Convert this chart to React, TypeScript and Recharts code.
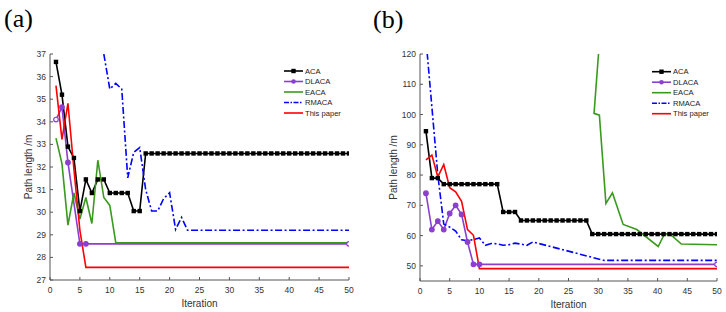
import { LineChart, Line, XAxis, YAxis, Label } from "recharts";

type Pt = { x: number; y: number };

const iterations = Array.from({ length: 50 }, (_, i) => i + 1);
const xTicks = [0, 5, 10, 15, 20, 25, 30, 35, 40, 45, 50];
const aTicks = [27, 28, 29, 30, 31, 32, 33, 34, 35, 36, 37];
const bTicks = [50, 60, 70, 80, 90, 100, 110, 120];

const names = ["ACA", "DLACA", "EACA", "RMACA", "This paper"];
const colors = ["#000000", "#8b3fd0", "#3a9a1e", "#0000ff", "#ff0000"];

// panel (a)
const aAcaY = [
  36.65, 35.2, 32.9, 32.4, 30.05, 31.45, 30.85, 31.45, 31.45, 30.85,
  30.85, 30.85, 30.85, 30.05, 30.05, 32.6, 32.6, 32.6, 32.6, 32.6,
  32.6, 32.6, 32.6, 32.6, 32.6, 32.6, 32.6, 32.6, 32.6, 32.6,
  32.6, 32.6, 32.6, 32.6, 32.6, 32.6, 32.6, 32.6, 32.6, 32.6,
  32.6, 32.6, 32.6, 32.6, 32.6, 32.6, 32.6, 32.6, 32.6, 32.6,
];
const aDlacaX = [1, 2, 3, 5, 6, 50];
const aDlacaY = [34.1, 34.65, 32.2, 28.6, 28.6, 28.6];
const aEacaX = [1, 2, 3, 4, 5, 6, 7, 8, 9, 10, 11, 50];
const aEacaY = [33.28, 32.15, 29.43, 30.85, 29.7, 30.65, 29.5, 32.3, 30.65, 30.3, 28.65, 28.65];
const aRmacaX = [9, 10, 11, 12, 13, 14, 15, 16, 17, 18, 19, 20, 21, 22, 23, 50];
const aRmacaY = [37, 35.45, 35.7, 35.45, 31.52, 32.65, 32.86, 31.0, 30.05, 30.05, 30.6, 30.86, 29.24, 29.77, 29.2, 29.2];
const aOursX = [1, 2, 3, 4, 5, 6, 50];
const aOursY = [35.6, 33.22, 34.82, 31.9, 29.2, 27.56, 27.56];

// panel (b)
const bAcaY = [
  94.5, 79, 79, 77, 77, 77, 77, 77, 77, 77,
  77, 77, 77, 67.8, 67.8, 67.8, 65, 65, 65, 65,
  65, 65, 65, 65, 65, 65, 65, 65, 60.5, 60.5,
  60.5, 60.5, 60.5, 60.5, 60.5, 60.5, 60.5, 60.5, 60.5, 60.5,
  60.5, 60.5, 60.5, 60.5, 60.5, 60.5, 60.5, 60.5, 60.5, 60.5,
];
const bDlacaX = [1, 2, 3, 4, 5, 6, 7, 8, 9, 10, 50];
const bDlacaY = [74, 62, 64.8, 62, 67.3, 70, 67, 57.9, 50.5, 50.5, 50.5];
const bEacaX = [30.05, 29.3, 30.2, 31.3, 32.4, 34.2, 36.5, 40.1, 41.1, 42.1, 44, 50];
const bEacaY = [120, 100.4, 99.8, 70.6, 74.1, 63.7, 62, 56.4, 60.3, 60.5, 57.2, 57];
const bRmacaX = [1, 2, 3, 4, 5, 6, 7, 8, 9, 10, 11, 12, 13, 14, 15, 16, 17, 18, 19, 31, 50];
const bRmacaY = [125, 102.5, 80, 63.8, 62.8, 61.5, 58.6, 58.3, 58.7, 59.2, 56.8, 57.4, 57.3, 56.8, 57, 57.5, 57.2, 56.8, 57.9, 51.8, 51.8];
const bOursX = [1, 2, 3, 4, 5, 6, 7, 8, 9, 10, 50];
const bOursY = [85, 86.6, 79.4, 83.5, 75.8, 74.5, 71.3, 62, 60.1, 49.1, 49.1];

const zip = (xs: number[], ys: number[]): Pt[] => xs.map((x, i) => ({ x, y: ys[i] }));

const FONT = "'Liberation Sans', Arial, sans-serif";
const AXIS = "#555";

function squareDot(p: any) {
  if (p.cx == null || p.cy == null) return <g key={`s${p.index}`} />;
  return <rect key={`s${p.index}`} x={p.cx - 2.2} y={p.cy - 2.2} width={4.4} height={4.4} fill="#000" />;
}

function circleDot(open: number[]) {
  return (p: any) => {
    if (p.cx == null || p.cy == null) return <g key={`c${p.index}`} />;
    return (
      <circle
        key={`c${p.index}`}
        cx={p.cx}
        cy={p.cy}
        r={2.3}
        fill={open.includes(p.index) ? "#fff" : colors[1]}
        stroke={colors[1]}
        strokeWidth={1.2}
      />
    );
  };
}

type PanelProps = {
  left: number;
  width: number;
  yAxisWidth: number;
  right: number;
  xAxisHeight: number;
  yDomain: [number, number];
  yTicks: number[];
  yTitleX: number;
  series: Pt[][];
  openDots: number[];
};

function Panel(p: PanelProps) {
  return (
    <div style={{ position: "absolute", left: p.left, top: 0 }}>
      <LineChart width={p.width} height={312} margin={{ top: 54, right: p.right, bottom: 0, left: 0 }}>
        <XAxis
          type="number"
          dataKey="x"
          domain={[0, 50]}
          ticks={xTicks}
          allowDataOverflow
          height={p.xAxisHeight}
          tickSize={-3}
          tickMargin={10}
          stroke={AXIS}
          tick={{ fontSize: 8.5, fill: "#333", fontFamily: FONT }}
        >
          <Label
            content={(lp: any) => {
              const vb = lp.viewBox || { x: 0, y: 0, width: 0 };
              return (
                <text x={vb.x + vb.width / 2} y={vb.y + 27} textAnchor="middle" fontSize={10} fill="#333" fontFamily={FONT}>
                  Iteration
                </text>
              );
            }}
          />
        </XAxis>
        <YAxis
          type="number"
          dataKey="y"
          domain={p.yDomain}
          ticks={p.yTicks}
          allowDataOverflow
          width={p.yAxisWidth}
          tickSize={-3}
          tickMargin={7}
          stroke={AXIS}
          tick={{ fontSize: 8.5, fill: "#333", fontFamily: FONT }}
        >
          <Label
            content={(lp: any) => {
              const vb = lp.viewBox || { x: 0, y: 0, height: 0 };
              const cx = vb.x + p.yTitleX;
              const cy = vb.y + vb.height / 2;
              return (
                <text
                  x={cx}
                  y={cy}
                  transform={`rotate(-90 ${cx} ${cy})`}
                  textAnchor="middle"
                  dominantBaseline="central"
                  fontSize={10}
                  fill="#333"
                  fontFamily={FONT}
                >
                  Path length /m
                </text>
              );
            }}
          />
        </YAxis>
        {p.series.map((d, i) => (
          <Line
            key={names[i]}
            data={d}
            dataKey="y"
            name={names[i]}
            type="linear"
            stroke={colors[i]}
            strokeWidth={1.6}
            strokeDasharray={i === 3 ? "7 2.5 2 2.5" : undefined}
            dot={i === 0 ? squareDot : i === 1 ? circleDot(p.openDots) : false}
            activeDot={false}
            isAnimationActive={false}
          />
        ))}
      </LineChart>
    </div>
  );
}

function LegendBox({ x, y }: { x: number; y: number }) {
  return (
    <g>
      {names.map((n, i) => {
        const ry = y + i * 10.5;
        return (
          <g key={n}>
            <line
              x1={x}
              x2={x + 19}
              y1={ry}
              y2={ry}
              stroke={colors[i]}
              strokeWidth={1.6}
              strokeDasharray={i === 3 ? "5 1.5 1.5 1.5" : undefined}
            />
            {i === 0 && <rect x={x + 7.3} y={ry - 2.2} width={4.4} height={4.4} fill="#000" />}
            {i === 1 && <circle cx={x + 9.5} cy={ry} r={2.3} fill={colors[1]} />}
            <text x={x + 21} y={ry} dominantBaseline="central" fontSize={7.6} fill="#222" fontFamily={FONT}>
              {n}
            </text>
          </g>
        );
      })}
    </g>
  );
}

export default function App() {
  const aSeries = [
    zip(iterations, aAcaY),
    zip(aDlacaX, aDlacaY),
    zip(aEacaX, aEacaY),
    zip(aRmacaX, aRmacaY),
    zip(aOursX, aOursY),
  ];
  const bSeries = [
    zip(iterations, bAcaY),
    zip(bDlacaX, bDlacaY),
    zip(bEacaX, bEacaY),
    zip(bRmacaX, bRmacaY),
    zip(bOursX, bOursY),
  ];
  return (
    <div style={{ position: "absolute", left: 0, top: 0, width: 726, height: 312, background: "#fff", overflow: "hidden" }}>
      <Panel
        left={0}
        width={360}
        yAxisWidth={50}
        right={11}
        xAxisHeight={32}
        yDomain={[27, 37]}
        yTicks={aTicks}
        yTitleX={28}
        series={aSeries}
        openDots={[0, aDlacaX.length - 1]}
      />
      <Panel
        left={360}
        width={366}
        yAxisWidth={60}
        right={9}
        xAxisHeight={31}
        yDomain={[45, 120]}
        yTicks={bTicks}
        yTitleX={33}
        series={bSeries}
        openDots={[bDlacaX.length - 1]}
      />
      <svg width={726} height={312} style={{ position: "absolute", left: 0, top: 0, pointerEvents: "none" }}>
        <text x={4} y={27} fontSize={26} fontFamily="'Liberation Serif', 'Times New Roman', serif" fill="#000">
          (a)
        </text>
        <text x={373} y={28} fontSize={26} fontFamily="'Liberation Serif', 'Times New Roman', serif" fill="#000">
          (b)
        </text>
        <LegendBox x={284} y={71} />
        <LegendBox x={652} y={71.7} />
      </svg>
    </div>
  );
}
